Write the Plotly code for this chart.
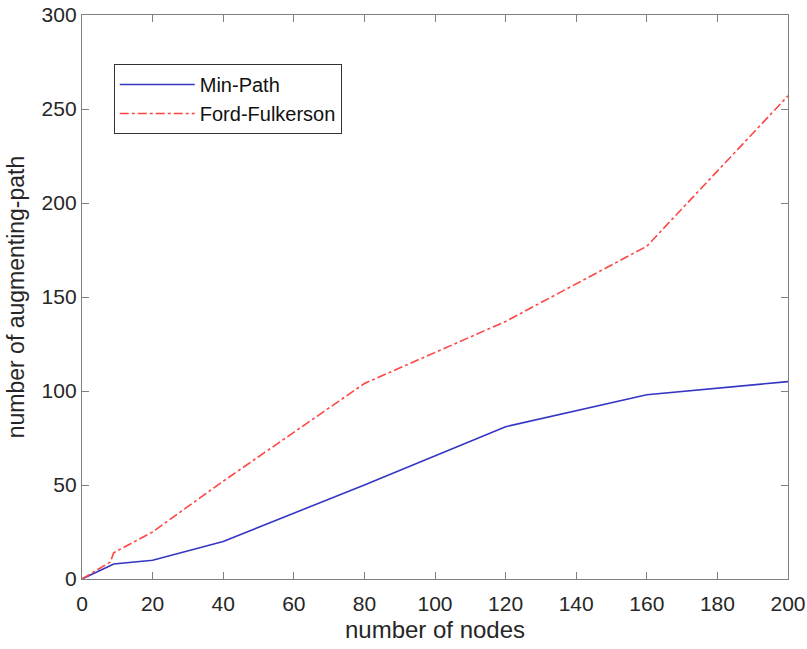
import plotly.graph_objects as go

nodes_min = [0, 9, 20, 40, 80, 120, 160, 200]
min_path = [0, 8, 10, 20, 50, 81, 98, 105]

nodes_ff = [0, 8, 9, 20, 40, 80, 120, 160, 200]
ford_fulkerson = [0, 9, 14, 25, 52, 104, 137, 177, 257]

x_ticks = [0, 20, 40, 60, 80, 100, 120, 140, 160, 180, 200]
y_ticks = [0, 50, 100, 150, 200, 250, 300]

font_family = "Liberation Sans, Arial, sans-serif"
axis_col = "#808080"
text_col = "#262626"

fig = go.Figure()
fig.add_trace(go.Scatter(x=nodes_min, y=min_path, mode="lines", name="Min-Path",
                         line=dict(color="#3535c4", width=1.6)))
fig.add_trace(go.Scatter(x=nodes_ff, y=ford_fulkerson, mode="lines", name="Ford-Fulkerson",
                         line=dict(color="#ff4545", width=1.6, dash="dashdot")))

axis_common = dict(showgrid=False, zeroline=False, showline=True, linecolor=axis_col,
                   linewidth=1.3, mirror="ticks", ticks="inside", ticklen=7,
                   tickcolor=axis_col, tickwidth=1.3, automargin=False,
                   tickfont=dict(family=font_family, size=21, color=text_col))

fig.update_xaxes(range=[0, 200], tickvals=x_ticks, ticktext=[str(v) for v in x_ticks],
                 ticklabelstandoff=6,
                 title=dict(text="number of nodes", font=dict(family=font_family, size=24, color=text_col),
                            standoff=6),
                 **axis_common)
fig.update_yaxes(range=[0, 300], tickvals=y_ticks, ticktext=[str(v) for v in y_ticks],
                 title=dict(text="number of augmenting-path", font=dict(family=font_family, size=23, color=text_col),
                            standoff=10),
                 **axis_common)

fig.update_layout(
    width=807, height=649,
    margin=dict(l=82, r=19, t=15, b=70, autoexpand=False),
    plot_bgcolor="white", paper_bgcolor="white",
    font=dict(family=font_family, color=text_col),
    legend=dict(x=0.045, y=0.913, xanchor="left", yanchor="top",
                bgcolor="white", bordercolor="#333333", borderwidth=1,
                font=dict(family=font_family, size=20, color="#111111"),
                itemwidth=75, tracegroupgap=0),
    showlegend=True,
)

fig.write_html("out.html",
               config={"displayModeBar": False},
               post_script="document.body.style.margin='0';document.body.style.overflow='hidden';")
